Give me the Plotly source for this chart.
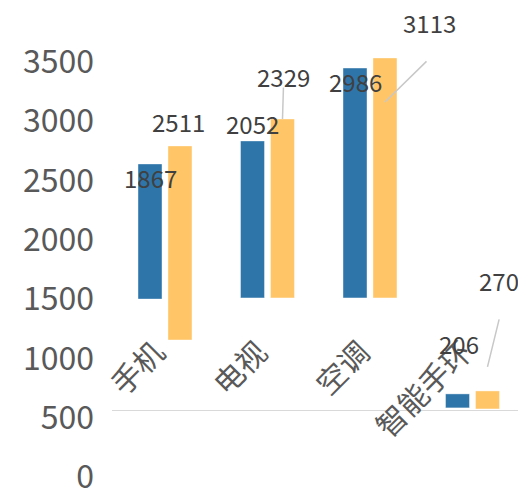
import plotly.graph_objects as go

categories = ["手机", "电视", "空调", "智能手环"]

# data labels shown on the chart
blue_values = [1867, 2052, 2986, 206]
orange_values = [2511, 2329, 3113, 270]

# bar extents as drawn (y-axis units)
blue_base = [1500, 1510, 1510, 582]
blue_top = [2640, 2834, 3449, 700]
orange_base = [1155, 1510, 1510, 573]
orange_top = [2792, 3019, 3534, 725]

y_ticks = [0, 500, 1000, 1500, 2000, 2500, 3000, 3500]

BLUE = "#2E75AA"
ORANGE = "#FFC566"
FONT = "Noto Sans CJK SC"

fig = go.Figure()
fig.add_trace(go.Bar(
    x=categories, y=[t - b for t, b in zip(blue_top, blue_base)], base=blue_base,
    marker=dict(color=BLUE, line=dict(color="rgba(255,255,255,0.4)", width=1)),
    hoverinfo="skip", showlegend=False))
fig.add_trace(go.Bar(
    x=categories, y=[t - b for t, b in zip(orange_top, orange_base)], base=orange_base,
    marker=dict(color=ORANGE, line=dict(color="rgba(255,255,255,0.4)", width=1)),
    hoverinfo="skip", showlegend=False))

# label placement (pixel shifts / y positions in axis units)
blue_label_y = [2530, 2986, 3340, 1130]
blue_label_dx = [-14, -14.5, -14, -13.5]
orange_label_y = [3002, 3382, 3835, 1661]
orange_label_dx = [14, 16.5, 60, 26.5]

annotations = []
for i, c in enumerate(categories):
    annotations.append(dict(x=c, y=blue_label_y[i], xshift=blue_label_dx[i], text=str(blue_values[i]),
                            showarrow=False, height=26, borderpad=0,
                            font=dict(size=24, color="#404040", family=FONT)))
    annotations.append(dict(x=c, y=orange_label_y[i], xshift=orange_label_dx[i], text=str(orange_values[i]),
                            showarrow=False, height=26, borderpad=0,
                            font=dict(size=24, color="#404040", family=FONT)))

# leader lines (category index, tip y, ax, ay)
leaders = [(1, 3019, 1, -33), (2, 3163, 43, -42), (3, 928, 12, -49)]
for ci, ty, ax, ay in leaders:
    annotations.append(dict(x=categories[ci], y=ty, xshift=15, text="", showarrow=True,
                            arrowhead=0, arrowwidth=1.5, arrowcolor="#c8c8c8",
                            ax=ax, ay=ay, font=dict(size=1)))

fig.update_layout(
    width=518, height=489,
    margin=dict(l=104, r=0, t=0, b=20, pad=0),
    paper_bgcolor="white", plot_bgcolor="white",
    barmode="group", bargap=0.415, bargroupgap=0.2,
    font=dict(family=FONT, color="#595959"),
    xaxis=dict(range=[-0.517, 3.522], anchor="free", position=0.1429,
               showline=True, linecolor="#d9d9d9", linewidth=1,
               showgrid=False, zeroline=False, ticks="", automargin=False,
               tickangle=-45, tickfont=dict(size=30, color="#595959", family=FONT),
               ticklabelstandoff=-88, ticklabelshift=-9),
    yaxis=dict(range=[-1, 3955.5], tickvals=y_ticks, showgrid=False, zeroline=False,
               showline=False, ticks="", ticklabeloverflow="allow",
               tickfont=dict(size=32, color="#595959", family=FONT),
               ticklabelstandoff=17),
    annotations=annotations,
)

fig.write_html("out.html")
